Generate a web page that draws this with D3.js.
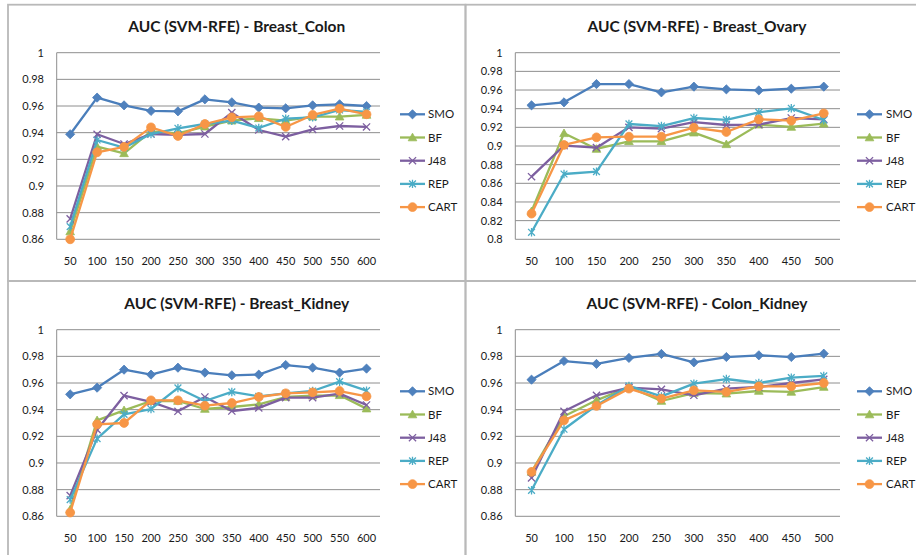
<!DOCTYPE html>
<html>
<head>
<meta charset="utf-8">
<script src="https://cdn.jsdelivr.net/npm/d3@7/dist/d3.min.js"></script>
<style>
  html, body { margin: 0; padding: 0; background: #fff; }
  svg { display: block; }
  text { font-family: Lato, "Open Sans", "DejaVu Sans", sans-serif; fill: #1a1a1a; }
</style>
</head>
<body>
<svg id="chart" width="916" height="555"></svg>
<script>
// Feature counts on the x axis
const featuresLong = [50, 100, 150, 200, 250, 300, 350, 400, 450, 500, 550, 600];
const featuresShort = [50, 100, 150, 200, 250, 300, 350, 400, 450, 500];

// Classifier names (legend order)
const classifiers = ["SMO", "BF", "J48", "REP", "CART"];

// y tick labels
const ticksHigh = [0.86, 0.88, 0.9, 0.92, 0.94, 0.96, 0.98, 1];
const ticksWide = [0.8, 0.82, 0.84, 0.86, 0.88, 0.9, 0.92, 0.94, 0.96, 0.98, 1];

// Breast_Colon
const breastColonSMO  = [0.9388, 0.9663, 0.9605, 0.9563, 0.9560, 0.9650, 0.9628, 0.9588, 0.9583, 0.9605, 0.9613, 0.9600];
const breastColonBF   = [0.8658, 0.9295, 0.9245, 0.9410, 0.9395, 0.9445, 0.9490, 0.9508, 0.9490, 0.9520, 0.9520, 0.9533];
const breastColonJ48  = [0.8753, 0.9388, 0.9315, 0.9390, 0.9383, 0.9390, 0.9550, 0.9420, 0.9370, 0.9425, 0.9450, 0.9443];
const breastColonREP  = [0.8695, 0.9345, 0.9288, 0.9390, 0.9433, 0.9465, 0.9490, 0.9435, 0.9505, 0.9515, 0.9570, 0.9555];
const breastColonCART = [0.8600, 0.9253, 0.9293, 0.9440, 0.9375, 0.9465, 0.9515, 0.9523, 0.9443, 0.9533, 0.9580, 0.9538];

// Breast_Ovary
const breastOvarySMO  = [0.9436, 0.9468, 0.9664, 0.9664, 0.9575, 0.9636, 0.9607, 0.9596, 0.9614, 0.9636];
const breastOvaryBF   = [0.8300, 0.9136, 0.8968, 0.9050, 0.9050, 0.9143, 0.9018, 0.9229, 0.9204, 0.9239];
const breastOvaryJ48  = [0.8671, 0.9004, 0.8982, 0.9200, 0.9186, 0.9257, 0.9225, 0.9229, 0.9300, 0.9286];
const breastOvaryREP  = [0.8075, 0.8700, 0.8725, 0.9236, 0.9214, 0.9300, 0.9279, 0.9361, 0.9404, 0.9279];
const breastOvaryCART = [0.8275, 0.9011, 0.9093, 0.9100, 0.9100, 0.9196, 0.9150, 0.9286, 0.9271, 0.9350];

// Breast_Kidney
const breastKidneySMO  = [0.9515, 0.9565, 0.9700, 0.9663, 0.9715, 0.9678, 0.9658, 0.9663, 0.9735, 0.9715, 0.9678, 0.9708];
const breastKidneyBF   = [0.8650, 0.9320, 0.9395, 0.9465, 0.9465, 0.9405, 0.9420, 0.9440, 0.9495, 0.9505, 0.9508, 0.9408];
const breastKidneyJ48  = [0.8755, 0.9250, 0.9505, 0.9458, 0.9388, 0.9495, 0.9390, 0.9413, 0.9490, 0.9490, 0.9520, 0.9435];
const breastKidneyREP  = [0.8725, 0.9183, 0.9365, 0.9405, 0.9563, 0.9465, 0.9533, 0.9500, 0.9523, 0.9540, 0.9610, 0.9543];
const breastKidneyCART = [0.8628, 0.9290, 0.9300, 0.9470, 0.9470, 0.9430, 0.9450, 0.9495, 0.9523, 0.9530, 0.9540, 0.9500];

// Colon_Kidney
const colonKidneySMO  = [0.9625, 0.9765, 0.9743, 0.9788, 0.9818, 0.9755, 0.9795, 0.9808, 0.9795, 0.9820];
const colonKidneyBF   = [0.8933, 0.9350, 0.9470, 0.9570, 0.9465, 0.9525, 0.9520, 0.9540, 0.9533, 0.9570];
const colonKidneyJ48  = [0.8888, 0.9388, 0.9508, 0.9565, 0.9553, 0.9508, 0.9558, 0.9570, 0.9600, 0.9628];
const colonKidneyREP  = [0.8795, 0.9253, 0.9433, 0.9578, 0.9500, 0.9595, 0.9630, 0.9600, 0.9640, 0.9653];
const colonKidneyCART = [0.8933, 0.9320, 0.9428, 0.9558, 0.9483, 0.9545, 0.9533, 0.9575, 0.9575, 0.9600];

const panels = [
  { title: "AUC (SVM-RFE) - Breast_Colon", x: featuresLong, ticks: ticksHigh,
    series: [breastColonSMO, breastColonBF, breastColonJ48, breastColonREP, breastColonCART] },
  { title: "AUC (SVM-RFE) - Breast_Ovary", x: featuresShort, ticks: ticksWide,
    series: [breastOvarySMO, breastOvaryBF, breastOvaryJ48, breastOvaryREP, breastOvaryCART] },
  { title: "AUC (SVM-RFE) - Breast_Kidney", x: featuresLong, ticks: ticksHigh,
    series: [breastKidneySMO, breastKidneyBF, breastKidneyJ48, breastKidneyREP, breastKidneyCART] },
  { title: "AUC (SVM-RFE) - Colon_Kidney", x: featuresShort, ticks: ticksHigh,
    series: [colonKidneySMO, colonKidneyBF, colonKidneyJ48, colonKidneyREP, colonKidneyCART] }
];

const colors = ["#4A7EBB", "#9BBB59", "#7D5FA0", "#4BACC6", "#F79646"];
const fills  = ["#4F81BD", "#9BBB59", "#8064A2", "#4BACC6", "#F79646"];

// Marker shapes: diamond, triangle, x, star, circle
function markerPath(kind) {
  const p = d3.path();
  if (kind === 0) { const r = 4.6; p.moveTo(0, -r); p.lineTo(r, 0); p.lineTo(0, r); p.lineTo(-r, 0); p.closePath(); }
  else if (kind === 1) { p.moveTo(0, -4.3); p.lineTo(4.3, 3.3); p.lineTo(-4.3, 3.3); p.closePath(); }
  else if (kind === 2) { const r = 3.6; p.moveTo(-r, -r); p.lineTo(r, r); p.moveTo(r, -r); p.lineTo(-r, r); }
  else if (kind === 3) { const r = 3.4; p.moveTo(-r, -r); p.lineTo(r, r); p.moveTo(r, -r); p.lineTo(-r, r); p.moveTo(0, -4.2); p.lineTo(0, 4.2); }
  else { p.arc(0, 0, 4.4, 0, 2 * Math.PI); }
  return p.toString();
}
function drawMarker(g, kind, cx, cy) {
  const m = g.append("path").attr("d", markerPath(kind)).attr("transform", `translate(${cx},${cy})`);
  if (kind === 2 || kind === 3) m.attr("fill", "none").attr("stroke", colors[kind]).attr("stroke-width", 1.3);
  else m.attr("fill", fills[kind]).attr("stroke", colors[kind]).attr("stroke-width", 0.8);
}

const svg = d3.select("#chart");
svg.append("rect").attr("width", 916).attr("height", 555).attr("fill", "#fff");

const colLeft = [8, 465.5], rowTop = [4.7, 281];
const plotLeft = [56.7, 515.3], plotRight = [380, 840];
const plotTop = [52.7, 329.7], plotBottom = [239.3, 516.3];
const titleX = [236.7, 697], titleY = [31.7, 308.7];
const legLine = [400, 857], legText = [428, 886], legY = [114.3, 391.3];

panels.forEach((pn, i) => {
  const col = i % 2, row = Math.floor(i / 2);
  const g = svg.append("g");

  // chart frame
  g.append("rect").attr("x", colLeft[col]).attr("y", rowTop[row])
    .attr("width", 457.5).attr("height", 276.3)
    .attr("fill", "none").attr("stroke", "#b9b9b9").attr("stroke-width", 1.8);

  const x = d3.scaleBand().domain(pn.x).range([plotLeft[col], plotRight[col]]).padding(0);
  const y = d3.scaleLinear().domain([d3.min(pn.ticks), 1]).range([plotBottom[row], plotTop[row]]);
  const cx = v => x(v) + x.bandwidth() / 2;

  // gridlines
  g.selectAll(".grid").data(pn.ticks).enter().append("line")
    .attr("x1", plotLeft[col]).attr("x2", plotRight[col])
    .attr("y1", d => y(d)).attr("y2", d => y(d))
    .attr("stroke", "#8e8e8e").attr("stroke-width", 1);
  g.append("line").attr("x1", plotLeft[col]).attr("x2", plotLeft[col])
    .attr("y1", plotTop[row]).attr("y2", plotBottom[row])
    .attr("stroke", "#8e8e8e").attr("stroke-width", 1);

  // axes
  const ya = g.append("g").attr("transform", `translate(${plotLeft[col]},0)`)
    .call(d3.axisLeft(y).tickValues(pn.ticks).tickSize(0).tickPadding(12.7)
      .tickFormat(d => String(+d.toFixed(2))));
  const xa = g.append("g").attr("transform", `translate(0,${plotBottom[row]})`)
    .call(d3.axisBottom(x).tickSize(0).tickPadding(18));
  [ya, xa].forEach(a => {
    a.select(".domain").remove();
    a.selectAll("text").attr("font-size", 11).attr("fill", "#1a1a1a")
      .style("font-family", "Lato, 'Open Sans', sans-serif");
  });

  // title
  g.append("text").attr("x", titleX[col]).attr("y", titleY[row])
    .attr("text-anchor", "middle").attr("font-size", 15.5).attr("font-weight", "bold")
    .text(pn.title);

  // series: lines then markers
  pn.series.forEach((vals, k) => {
    const line = d3.line().x((d, j) => cx(pn.x[j])).y(d => y(d));
    g.append("path").datum(vals).attr("d", line)
      .attr("fill", "none").attr("stroke", colors[k]).attr("stroke-width", 2.3)
      .attr("stroke-linejoin", "round");
    vals.forEach((v, j) => drawMarker(g, k, cx(pn.x[j]), y(v)));
  });

  // legend
  classifiers.forEach((name, k) => {
    const ly = legY[row] + k * 23.2;
    g.append("line").attr("x1", legLine[col]).attr("x2", legLine[col] + 25)
      .attr("y1", ly).attr("y2", ly).attr("stroke", colors[k]).attr("stroke-width", 2.3);
    drawMarker(g, k, legLine[col] + 12.5, ly);
    g.append("text").attr("x", legText[col]).attr("y", ly).attr("dy", "0.36em")
      .attr("font-size", 11.5).text(name);
  });
});
</script>
</body>
</html>
